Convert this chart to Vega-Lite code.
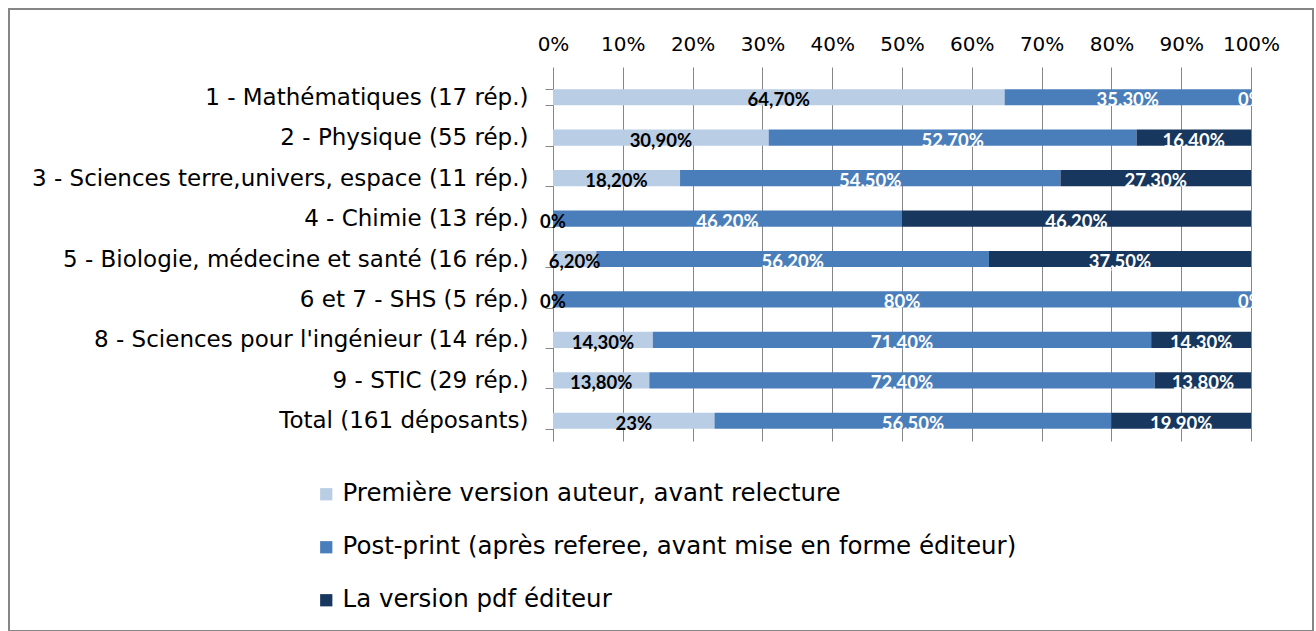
{
  "$schema": "https://vega.github.io/schema/vega-lite/v6.json",
  "autosize": "none",
  "width": 1304,
  "height": 622,
  "padding": {"left": 9, "top": 9, "right": 3, "bottom": 0},
  "background": "white",
  "config": {
    "font": "DejaVu Sans",
    "view": {"stroke": "#868686", "strokeWidth": 2, "fill": "white"}
  },
  "data": {
    "values": [
      {"cat": "1 - Mathématiques (17 rép.)", "series": "Première version auteur, avant relecture", "k": 1, "value": 64.7, "label": "64,70%"},
      {"cat": "1 - Mathématiques (17 rép.)", "series": "Post-print (après referee, avant mise en forme éditeur)", "k": 2, "value": 35.3, "label": "35,30%"},
      {"cat": "1 - Mathématiques (17 rép.)", "series": "La version pdf éditeur", "k": 3, "value": 0, "label": "0%"},
      {"cat": "2 - Physique (55 rép.)", "series": "Première version auteur, avant relecture", "k": 1, "value": 30.9, "label": "30,90%"},
      {"cat": "2 - Physique (55 rép.)", "series": "Post-print (après referee, avant mise en forme éditeur)", "k": 2, "value": 52.7, "label": "52,70%"},
      {"cat": "2 - Physique (55 rép.)", "series": "La version pdf éditeur", "k": 3, "value": 16.4, "label": "16,40%"},
      {"cat": "3 - Sciences terre,univers, espace (11 rép.)", "series": "Première version auteur, avant relecture", "k": 1, "value": 18.2, "label": "18,20%"},
      {"cat": "3 - Sciences terre,univers, espace (11 rép.)", "series": "Post-print (après referee, avant mise en forme éditeur)", "k": 2, "value": 54.5, "label": "54,50%"},
      {"cat": "3 - Sciences terre,univers, espace (11 rép.)", "series": "La version pdf éditeur", "k": 3, "value": 27.3, "label": "27,30%"},
      {"cat": "4 - Chimie (13 rép.)", "series": "Première version auteur, avant relecture", "k": 1, "value": 0, "label": "0%"},
      {"cat": "4 - Chimie (13 rép.)", "series": "Post-print (après referee, avant mise en forme éditeur)", "k": 2, "value": 46.2, "label": "46,20%"},
      {"cat": "4 - Chimie (13 rép.)", "series": "La version pdf éditeur", "k": 3, "value": 46.2, "label": "46,20%"},
      {"cat": "5 - Biologie, médecine et santé (16 rép.)", "series": "Première version auteur, avant relecture", "k": 1, "value": 6.2, "label": "6,20%"},
      {"cat": "5 - Biologie, médecine et santé (16 rép.)", "series": "Post-print (après referee, avant mise en forme éditeur)", "k": 2, "value": 56.2, "label": "56,20%"},
      {"cat": "5 - Biologie, médecine et santé (16 rép.)", "series": "La version pdf éditeur", "k": 3, "value": 37.5, "label": "37,50%"},
      {"cat": "6 et 7 -  SHS (5 rép.)", "series": "Première version auteur, avant relecture", "k": 1, "value": 0, "label": "0%"},
      {"cat": "6 et 7 -  SHS (5 rép.)", "series": "Post-print (après referee, avant mise en forme éditeur)", "k": 2, "value": 80, "label": "80%"},
      {"cat": "6 et 7 -  SHS (5 rép.)", "series": "La version pdf éditeur", "k": 3, "value": 0, "label": "0%"},
      {"cat": "8 - Sciences pour l'ingénieur (14 rép.)", "series": "Première version auteur, avant relecture", "k": 1, "value": 14.3, "label": "14,30%"},
      {"cat": "8 - Sciences pour l'ingénieur (14 rép.)", "series": "Post-print (après referee, avant mise en forme éditeur)", "k": 2, "value": 71.4, "label": "71,40%"},
      {"cat": "8 - Sciences pour l'ingénieur (14 rép.)", "series": "La version pdf éditeur", "k": 3, "value": 14.3, "label": "14,30%"},
      {"cat": "9 - STIC (29 rép.)", "series": "Première version auteur, avant relecture", "k": 1, "value": 13.8, "label": "13,80%"},
      {"cat": "9 - STIC (29 rép.)", "series": "Post-print (après referee, avant mise en forme éditeur)", "k": 2, "value": 72.4, "label": "72,40%"},
      {"cat": "9 - STIC (29 rép.)", "series": "La version pdf éditeur", "k": 3, "value": 13.8, "label": "13,80%"},
      {"cat": "Total (161 déposants)", "series": "Première version auteur, avant relecture", "k": 1, "value": 23, "label": "23%"},
      {"cat": "Total (161 déposants)", "series": "Post-print (après referee, avant mise en forme éditeur)", "k": 2, "value": 56.5, "label": "56,50%"},
      {"cat": "Total (161 déposants)", "series": "La version pdf éditeur", "k": 3, "value": 19.9, "label": "19,90%"}
    ]
  },
  "encoding": {
    "y": {
      "field": "cat",
      "type": "nominal",
      "sort": null,
      "scale": {"range": [68, 432], "paddingInner": 0.6, "paddingOuter": 0.3},
      "axis": {
        "title": null,
        "orient": "left",
        "offset": -544,
        "domainColor": "#868686",
        "domainWidth": 1,
        "tickColor": "#868686",
        "tickSize": 8,
        "tickBand": "extent",
        "labelFont": "DejaVu Sans",
        "labelFontSize": 23,
        "labelColor": "#000000",
        "labelPadding": 17,
        "labelLimit": 0,
        "grid": false
      }
    }
  },
  "layer": [
    {
      "mark": {"type": "bar"},
      "encoding": {
        "x": {
          "field": "value",
          "type": "quantitative",
          "stack": "normalize",
          "scale": {"domain": [0, 1], "range": [544, 1242], "nice": false},
          "axis": {
            "title": null,
            "orient": "top",
            "offset": -432,
            "values": [0, 0.1, 0.2, 0.3, 0.4, 0.5, 0.6, 0.7, 0.8, 0.9, 1],
            "format": ".0%",
            "domain": false,
            "grid": false,
            "ticks": true,
            "tickSize": 374,
            "tickColor": "#868686",
            "tickWidth": 1,
            "labelFont": "DejaVu Sans",
            "labelFontSize": 20,
            "labelColor": "#000000",
            "labelPadding": 13,
            "labelFlush": false,
            "labelOverlap": false
          }
        },
        "color": {
          "field": "series",
          "type": "nominal",
          "scale": {
            "domain": [
              "Première version auteur, avant relecture",
              "Post-print (après referee, avant mise en forme éditeur)",
              "La version pdf éditeur"
            ],
            "range": ["#B9CDE5", "#4A7EBB", "#17375E"]
          },
          "legend": {
            "title": null,
            "orient": "none",
            "legendX": 305,
            "legendY": 473,
            "direction": "vertical",
            "symbolType": "square",
            "symbolSize": 150,
            "symbolStrokeWidth": 0,
            "labelFont": "DejaVu Sans",
            "labelFontSize": 24.5,
            "labelColor": "#000000",
            "labelLimit": 0,
            "labelOffset": 4,
            "rowPadding": 28
          }
        },
        "order": {"field": "k", "type": "quantitative"}
      }
    },
    {
      "mark": {"type": "text", "font": "Lato", "fontSize": 18.5, "fontWeight": "bold", "baseline": "middle", "align": "center", "dy": 3},
      "encoding": {
        "x": {"field": "value", "type": "quantitative", "stack": "normalize", "bandPosition": 0.5},
        "detail": {"field": "series"},
        "order": {"field": "k", "type": "quantitative"},
        "text": {"field": "label"},
        "color": {"condition": {"test": "datum.k == 1", "value": "#000000"}, "value": "#ffffff"}
      }
    }
  ]
}
